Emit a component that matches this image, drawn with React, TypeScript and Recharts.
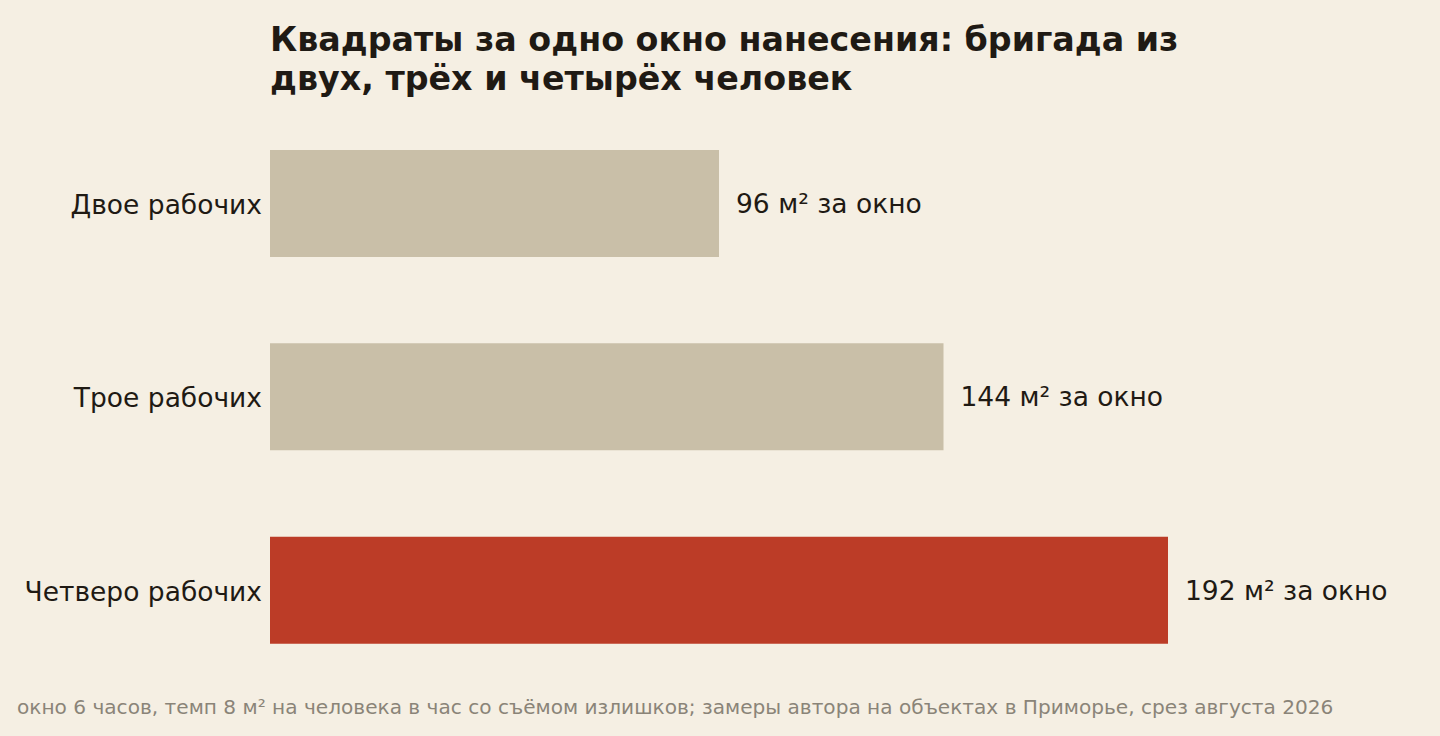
import { BarChart, Bar, XAxis, YAxis, Cell, LabelList } from 'recharts';

const categories = ['Двое рабочих', 'Трое рабочих', 'Четверо рабочих'];
const squareMeters = [96, 144, 192];
const barColors = ['#c9bfa8', '#c9bfa8', '#bc3c27'];

const TITLE = 'Квадраты за одно окно нанесения: бригада из\nдвух, трёх и четырёх человек';
const FOOTNOTE =
  'окно 6 часов, темп 8 м² на человека в час со съёмом излишков; замеры автора на объектах в Приморье, срез августа 2026';

const FONT = '"DejaVu Sans", sans-serif';
const INK = '#1f1a14';

const data = categories.map((name, i) => ({ name, value: squareMeters[i] }));

export default function App() {
  return (
    <div style={{ position: 'relative', width: 1440, height: 736, background: '#f5efe3', fontFamily: FONT }}>
      <style>{'body{margin:0}'}</style>
      <div
        style={{
          position: 'absolute',
          left: 270,
          top: 20,
          fontSize: 33.3,
          fontWeight: 'bold',
          lineHeight: '39px',
          color: INK,
          whiteSpace: 'pre',
        }}
      >
        {TITLE}
      </div>
      <BarChart
        width={1440}
        height={736}
        data={data}
        layout="vertical"
        margin={{ top: 107, right: 272, bottom: 49, left: 0 }}
      >
        <XAxis type="number" domain={[0, 192]} hide />
        <YAxis
          type="category"
          dataKey="name"
          width={270}
          axisLine={false}
          tickLine={false}
          tick={{ fill: INK, fontSize: 26.5, fontFamily: FONT, dy: 1 }}
        />
        <Bar dataKey="value" barSize={107} isAnimationActive={false}>
          {data.map((d, i) => (
            <Cell key={d.name} fill={barColors[i]} />
          ))}
          <LabelList
            dataKey="value"
            position="right"
            offset={17}
            formatter={(v: any) => `${v} м² за окно`}
            style={{ fill: INK, fontSize: 26.5, fontFamily: FONT }}
          />
        </Bar>
      </BarChart>
      <div
        style={{
          position: 'absolute',
          left: 17,
          top: 695,
          fontSize: 20.1,
          color: '#8a8478',
          whiteSpace: 'nowrap',
        }}
      >
        {FOOTNOTE}
      </div>
    </div>
  );
}
